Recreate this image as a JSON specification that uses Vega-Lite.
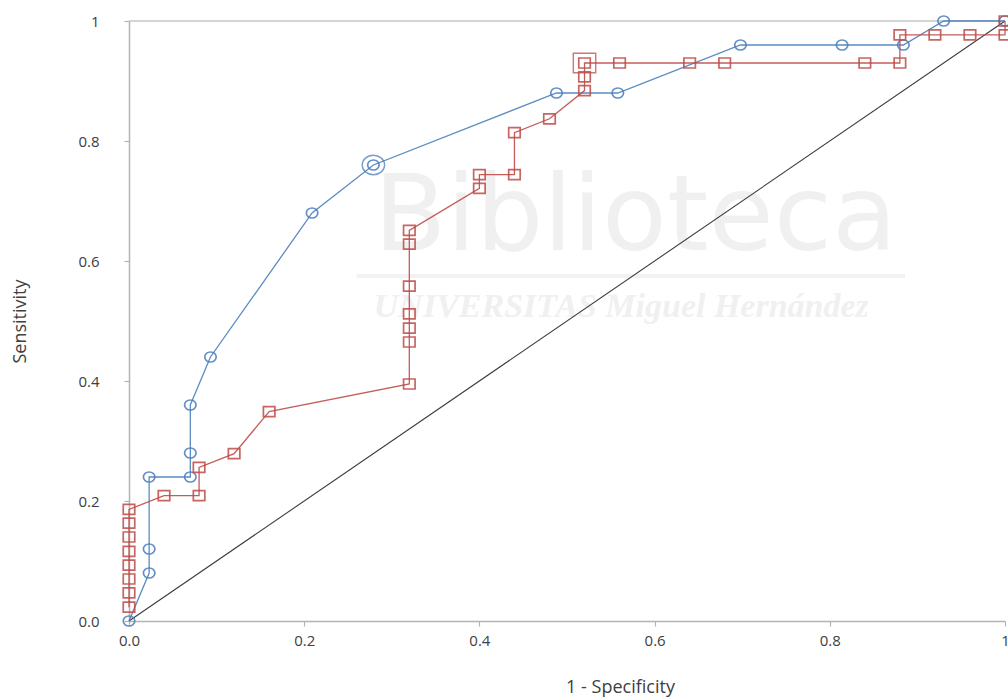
{
  "$schema": "https://vega.github.io/schema/vega-lite/v6.json",
  "width": 876,
  "height": 600,
  "autosize": {"type": "none"},
  "padding": {"left": 129, "top": 21, "right": 3, "bottom": 76},
  "background": "white",
  "config": {
    "view": {"stroke": null},
    "font": "Open Sans",
    "axis": {
      "domainColor": "#b3b3b3",
      "domainWidth": 1.5,
      "tickColor": "#b3b3b3",
      "tickWidth": 1.2,
      "tickSize": 5,
      "grid": false,
      "labelFont": "Open Sans",
      "labelFontSize": 15,
      "labelColor": "#404040",
      "labelFlush": false,
      "labelOverlap": false,
      "labelBound": false,
      "titleFont": "Open Sans",
      "titleFontSize": 18,
      "titleFontWeight": "normal",
      "titleColor": "#404040"
    }
  },
  "datasets": {
    "roc": [
      {"series": "A", "step": 0, "fpr": 0.0, "tpr": 0.0},
      {"series": "A", "step": 1, "fpr": 0.023, "tpr": 0.08},
      {"series": "A", "step": 2, "fpr": 0.023, "tpr": 0.12},
      {"series": "A", "step": 3, "fpr": 0.023, "tpr": 0.24},
      {"series": "A", "step": 4, "fpr": 0.07, "tpr": 0.24},
      {"series": "A", "step": 5, "fpr": 0.07, "tpr": 0.28},
      {"series": "A", "step": 6, "fpr": 0.07, "tpr": 0.36},
      {"series": "A", "step": 7, "fpr": 0.093, "tpr": 0.44},
      {"series": "A", "step": 8, "fpr": 0.209, "tpr": 0.68},
      {"series": "A", "step": 9, "fpr": 0.279, "tpr": 0.76},
      {"series": "A", "step": 10, "fpr": 0.488, "tpr": 0.88},
      {"series": "A", "step": 11, "fpr": 0.558, "tpr": 0.88},
      {"series": "A", "step": 12, "fpr": 0.698, "tpr": 0.96},
      {"series": "A", "step": 13, "fpr": 0.814, "tpr": 0.96},
      {"series": "A", "step": 14, "fpr": 0.884, "tpr": 0.96},
      {"series": "A", "step": 15, "fpr": 0.93, "tpr": 1.0},
      {"series": "A", "step": 16, "fpr": 1.0, "tpr": 1.0},
      {"series": "B", "step": 1, "fpr": 0.0, "tpr": 0.023},
      {"series": "B", "step": 2, "fpr": 0.0, "tpr": 0.047},
      {"series": "B", "step": 3, "fpr": 0.0, "tpr": 0.07},
      {"series": "B", "step": 4, "fpr": 0.0, "tpr": 0.093},
      {"series": "B", "step": 5, "fpr": 0.0, "tpr": 0.116},
      {"series": "B", "step": 6, "fpr": 0.0, "tpr": 0.14},
      {"series": "B", "step": 7, "fpr": 0.0, "tpr": 0.163},
      {"series": "B", "step": 8, "fpr": 0.0, "tpr": 0.186},
      {"series": "B", "step": 9, "fpr": 0.04, "tpr": 0.209},
      {"series": "B", "step": 10, "fpr": 0.08, "tpr": 0.209},
      {"series": "B", "step": 11, "fpr": 0.08, "tpr": 0.256},
      {"series": "B", "step": 12, "fpr": 0.12, "tpr": 0.279},
      {"series": "B", "step": 13, "fpr": 0.16, "tpr": 0.349},
      {"series": "B", "step": 14, "fpr": 0.32, "tpr": 0.395},
      {"series": "B", "step": 15, "fpr": 0.32, "tpr": 0.465},
      {"series": "B", "step": 16, "fpr": 0.32, "tpr": 0.488},
      {"series": "B", "step": 17, "fpr": 0.32, "tpr": 0.512},
      {"series": "B", "step": 18, "fpr": 0.32, "tpr": 0.558},
      {"series": "B", "step": 19, "fpr": 0.32, "tpr": 0.628},
      {"series": "B", "step": 20, "fpr": 0.32, "tpr": 0.651},
      {"series": "B", "step": 21, "fpr": 0.4, "tpr": 0.721},
      {"series": "B", "step": 22, "fpr": 0.4, "tpr": 0.744},
      {"series": "B", "step": 23, "fpr": 0.44, "tpr": 0.744},
      {"series": "B", "step": 24, "fpr": 0.44, "tpr": 0.814},
      {"series": "B", "step": 25, "fpr": 0.48, "tpr": 0.837},
      {"series": "B", "step": 26, "fpr": 0.52, "tpr": 0.884},
      {"series": "B", "step": 27, "fpr": 0.52, "tpr": 0.907},
      {"series": "B", "step": 28, "fpr": 0.52, "tpr": 0.93},
      {"series": "B", "step": 29, "fpr": 0.56, "tpr": 0.93},
      {"series": "B", "step": 30, "fpr": 0.64, "tpr": 0.93},
      {"series": "B", "step": 31, "fpr": 0.68, "tpr": 0.93},
      {"series": "B", "step": 32, "fpr": 0.84, "tpr": 0.93},
      {"series": "B", "step": 33, "fpr": 0.88, "tpr": 0.93},
      {"series": "B", "step": 34, "fpr": 0.88, "tpr": 0.977},
      {"series": "B", "step": 35, "fpr": 0.92, "tpr": 0.977},
      {"series": "B", "step": 36, "fpr": 0.96, "tpr": 0.977},
      {"series": "B", "step": 37, "fpr": 1.0, "tpr": 0.977},
      {"series": "B", "step": 38, "fpr": 1.0, "tpr": 1.0}
    ],
    "cutoff": [
      {"series": "A", "fpr": 0.279, "tpr": 0.76},
      {"series": "B", "fpr": 0.52, "tpr": 0.93}
    ],
    "chance": [
      {"fpr": 0.0, "tpr": 0.0},
      {"fpr": 1.0, "tpr": 1.0}
    ],
    "watermark": [
      {"label": "Biblioteca"}
    ],
    "watermarkSub": [
      {"label": "UNIVERSITAS Miguel Hernández"}
    ]
  },
  "layer": [
    {
      "data": {"name": "watermark"},
      "mark": {"type": "text", "font": "DejaVu Sans", "fontSize": 106, "fill": "#f0f0f0", "align": "center", "baseline": "alphabetic"},
      "encoding": {
        "x": {"datum": 0.578, "type": "quantitative"},
        "y": {"datum": 0.618, "type": "quantitative"},
        "text": {"field": "label", "type": "nominal"}
      }
    },
    {
      "data": {"name": "watermarkSub"},
      "mark": {"type": "text", "font": "Liberation Serif", "fontSize": 34, "fontWeight": "bold", "fontStyle": "italic", "fill": "#f0f0f0", "align": "center", "baseline": "alphabetic"},
      "encoding": {
        "x": {"datum": 0.562, "type": "quantitative"},
        "y": {"datum": 0.507, "type": "quantitative"},
        "text": {"field": "label", "type": "nominal"}
      }
    },
    {
      "data": {"name": "watermark"},
      "mark": {"type": "rule", "color": "#f2f2f2", "strokeWidth": 4},
      "encoding": {
        "x": {"datum": 0.26, "type": "quantitative"},
        "x2": {"datum": 0.886},
        "y": {"datum": 0.575, "type": "quantitative"}
      }
    },
    {
      "data": {"name": "watermark"},
      "mark": {"type": "rule", "color": "#c6c6c6", "strokeWidth": 1.5},
      "encoding": {
        "y": {"datum": 1, "type": "quantitative"}
      }
    },
    {
      "data": {"name": "chance"},
      "mark": {"type": "line", "color": "#3c3c3c", "strokeWidth": 1.1},
      "encoding": {
        "x": {"field": "fpr", "type": "quantitative", "title": "1 - Specificity"},
        "y": {"field": "tpr", "type": "quantitative", "title": "Sensitivity"}
      }
    },
    {
      "data": {"name": "roc"},
      "mark": {"type": "line", "strokeWidth": 1.3, "opacity": 0.9},
      "encoding": {
        "x": {
          "field": "fpr",
          "type": "quantitative",
          "scale": {"domain": [0, 1], "nice": false, "zero": false},
          "axis": {
            "title": "1 - Specificity",
            "values": [0, 0.2, 0.4, 0.6, 0.8, 1],
            "labelExpr": "datum.value === 1 ? '1' : format(datum.value, '.1f')",
            "labelPadding": 7,
            "titleX": 491,
            "titleY": 71,
            "titleAlign": "center",
            "titleBaseline": "alphabetic"
          }
        },
        "y": {
          "field": "tpr",
          "type": "quantitative",
          "scale": {"domain": [0, 1], "nice": false, "zero": false},
          "axis": {
            "title": "Sensitivity",
            "values": [0, 0.2, 0.4, 0.6, 0.8, 1],
            "labelExpr": "datum.value === 1 ? '1' : format(datum.value, '.1f')",
            "labelPadding": 25,
            "titleX": -104,
            "titleY": 300,
            "titleAngle": -90,
            "titleAlign": "center",
            "titleBaseline": "alphabetic"
          }
        },
        "color": {"field": "series", "type": "nominal", "scale": {"domain": ["A", "B"], "range": ["#4a7ebb", "#be4b48"]}, "legend": null},
        "order": {"field": "step", "type": "quantitative"}
      }
    },
    {
      "data": {"name": "roc"},
      "mark": {"type": "point", "filled": false, "strokeWidth": 1.7, "size": 100, "opacity": 0.85},
      "encoding": {
        "x": {"field": "fpr", "type": "quantitative", "title": "1 - Specificity"},
        "y": {"field": "tpr", "type": "quantitative", "title": "Sensitivity"},
        "color": {"field": "series", "type": "nominal", "scale": {"domain": ["A", "B"], "range": ["#4a7ebb", "#be4b48"]}, "legend": null},
        "shape": {"field": "series", "type": "nominal", "scale": {"domain": ["A", "B"], "range": ["M-1.15,0A1.15,1 0 1,1 1.15,0A1.15,1 0 1,1 -1.15,0Z", "M-1.15,-1H1.15V1H-1.15Z"]}, "legend": null}
      }
    },
    {
      "data": {"name": "cutoff"},
      "mark": {"type": "point", "filled": false, "strokeWidth": 1.4, "size": 380, "opacity": 0.75},
      "encoding": {
        "x": {"field": "fpr", "type": "quantitative", "title": "1 - Specificity"},
        "y": {"field": "tpr", "type": "quantitative", "title": "Sensitivity"},
        "color": {"field": "series", "type": "nominal", "scale": {"domain": ["A", "B"], "range": ["#4a7ebb", "#be4b48"]}, "legend": null},
        "shape": {"field": "series", "type": "nominal", "scale": {"domain": ["A", "B"], "range": ["M-1.15,0A1.15,1 0 1,1 1.15,0A1.15,1 0 1,1 -1.15,0Z", "M-1.15,-1H1.15V1H-1.15Z"]}, "legend": null}
      }
    }
  ]
}
